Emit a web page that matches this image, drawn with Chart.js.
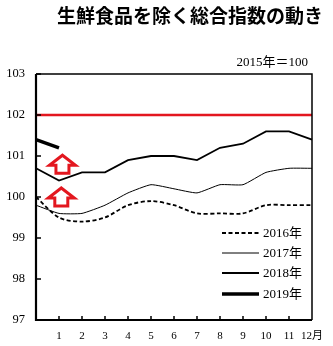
<!DOCTYPE html>
<html>
<head>
<meta charset="utf-8">
<script src="https://cdn.jsdelivr.net/npm/chart.js@4.4.1/dist/chart.umd.min.js"></script>
<style>
  body { margin: 0; background: #fff; }
  #wrap { width: 333px; height: 346px; position: relative; }
</style>
</head>
<body>
<div id="wrap"><canvas id="cpiChart"></canvas></div>
<script>
// month axis: 0 = previous December, then Jan..Dec
const monthLabels = ['', '1', '2', '3', '4', '5', '6', '7', '8', '9', '10', '11', '12月'];

const cpi2016 = [100.0, 99.5, 99.4, 99.5, 99.8, 99.9, 99.8, 99.6, 99.6, 99.6, 99.8, 99.8, 99.8];
const cpi2017 = [99.8, 99.6, 99.6, 99.8, 100.1, 100.3, 100.2, 100.1, 100.3, 100.3, 100.6, 100.7, 100.7];
const cpi2018 = [100.7, 100.4, 100.6, 100.6, 100.9, 101.0, 101.0, 100.9, 101.2, 101.3, 101.6, 101.6, 101.4];
const cpi2019 = [101.4, 101.2];

const yTicks = [97, 98, 99, 100, 101, 102, 103];
const refLevel = 102;
// red "up" arrows drawn at month 1 (category index + offset, value)
const arrowSpots = [[1.15, 100.8], [1.1, 100.0]];

const titleText = '生鮮食品を除く総合指数の動き';
const baseText = '2015年＝100';

const serif = '"Liberation Serif", "Noto Sans CJK JP", serif';

// frame, ticks, reference line, arrows, legend, titles
const decorPlugin = {
    id: 'decor',
    beforeDatasetsDraw(chart) {
        const { ctx, chartArea: a, scales: { y } } = chart;
        const ry = y.getPixelForValue(refLevel);
        ctx.save();
        ctx.strokeStyle = '#e3171f';
        ctx.lineWidth = 2.6;
        ctx.beginPath();
        ctx.moveTo(a.left, ry);
        ctx.lineTo(a.right, ry);
        ctx.stroke();
        ctx.restore();
    },
    afterDatasetsDraw(chart) {
        const { ctx, chartArea: a, scales: { x, y } } = chart;
        ctx.save();

        // frame
        ctx.strokeStyle = '#000';
        ctx.lineWidth = 1.5;
        ctx.beginPath();
        ctx.moveTo(a.left, a.top);
        ctx.lineTo(a.right, a.top);
        ctx.lineTo(a.right, a.bottom);
        ctx.stroke();
        ctx.lineWidth = 2.2;
        ctx.beginPath();
        ctx.moveTo(a.left, a.top);
        ctx.lineTo(a.left, a.bottom);
        ctx.lineTo(a.right, a.bottom);
        ctx.stroke();

        // inward tick marks
        ctx.lineWidth = 1.5;
        ctx.beginPath();
        yTicks.forEach(v => {
            const py = y.getPixelForValue(v);
            ctx.moveTo(a.left, py);
            ctx.lineTo(a.left + 5, py);
        });
        for (let i = 1; i < monthLabels.length - 1; i++) {
            const px = x.getPixelForValue(i);
            ctx.moveTo(px, a.bottom);
            ctx.lineTo(px, a.bottom - 4);
        }
        ctx.stroke();

        // arrows
        arrowSpots.forEach(([mx, v]) => {
            const cx = x.getPixelForValue(0) + (x.getPixelForValue(1) - x.getPixelForValue(0)) * mx;
            const cy = y.getPixelForValue(v);
            drawUpArrow(ctx, cx, cy);
        });

        // legend
        const legX = 222, legW = 37;
        const legY = [233, 253, 273, 294];
        chart.data.datasets.forEach((ds, i) => {
            ctx.strokeStyle = '#000';
            ctx.lineWidth = ds.borderWidth;
            ctx.setLineDash(ds.borderDash || []);
            ctx.beginPath();
            ctx.moveTo(legX, legY[i]);
            ctx.lineTo(legX + legW, legY[i]);
            ctx.stroke();
            ctx.setLineDash([]);
            ctx.fillStyle = '#000';
            ctx.font = '13px ' + serif;
            ctx.textAlign = 'left';
            ctx.textBaseline = 'middle';
            ctx.fillText(ds.label, legX + legW + 4, legY[i] + 1);
        });

        // titles
        ctx.fillStyle = '#000';
        ctx.font = 'bold 19px "Noto Sans CJK JP", sans-serif';
        ctx.textAlign = 'center';
        ctx.textBaseline = 'middle';
        ctx.fillText(titleText, 190, 16);
        ctx.font = '13px ' + serif;
        ctx.textAlign = 'right';
        ctx.fillText(baseText, 308, 63);

        ctx.restore();
    }
};

function drawUpArrow(ctx, cx, cy) {
    const headW = 26, headH = 10, stemW = 13, stemH = 8;
    const top = cy - (headH + stemH) / 2;
    ctx.save();
    ctx.strokeStyle = '#e3171f';
    ctx.fillStyle = '#fff';
    ctx.lineWidth = 3;
    ctx.lineJoin = 'miter';
    ctx.beginPath();
    ctx.moveTo(cx, top);
    ctx.lineTo(cx + headW / 2, top + headH);
    ctx.lineTo(cx + stemW / 2, top + headH);
    ctx.lineTo(cx + stemW / 2, top + headH + stemH);
    ctx.lineTo(cx - stemW / 2, top + headH + stemH);
    ctx.lineTo(cx - stemW / 2, top + headH);
    ctx.lineTo(cx - headW / 2, top + headH);
    ctx.closePath();
    ctx.fill();
    ctx.stroke();
    ctx.restore();
}

const ctx = document.getElementById('cpiChart').getContext('2d');
new Chart(ctx, {
    type: 'line',
    data: {
        labels: monthLabels,
        datasets: [
            { label: '2016年', data: cpi2016, borderColor: '#000', borderWidth: 1.8, borderDash: [4, 2.5], tension: 0.3 },
            { label: '2017年', data: cpi2017, borderColor: '#000', borderWidth: 1, tension: 0.15 },
            { label: '2018年', data: cpi2018, borderColor: '#000', borderWidth: 1.8, tension: 0 },
            { label: '2019年', data: cpi2019, borderColor: '#000', borderWidth: 3.5, tension: 0 }
        ]
    },
    options: {
        responsive: true,
        maintainAspectRatio: false,
        animation: false,
        layout: { padding: { top: 74, right: 19, left: 0, bottom: 0 } },
        elements: { point: { radius: 0, hoverRadius: 0 } },
        plugins: {
            legend: { display: false },
            tooltip: { enabled: false }
        },
        scales: {
            x: {
                offset: false,
                grid: { display: false, drawTicks: false },
                border: { display: false },
                ticks: {
                    autoSkip: false,
                    maxRotation: 0,
                    padding: 10,
                    color: '#000',
                    font: { family: serif, size: 11 }
                },
                afterFit(scale) { scale.height = 26; }
            },
            y: {
                min: 97,
                max: 103,
                grid: { display: false, drawTicks: false },
                border: { display: false },
                ticks: {
                    stepSize: 1,
                    padding: 11,
                    color: '#000',
                    font: { family: serif, size: 12.5 }
                },
                afterFit(scale) { scale.width = 36; }
            }
        }
    },
    plugins: [decorPlugin]
});
</script>
</body>
</html>
